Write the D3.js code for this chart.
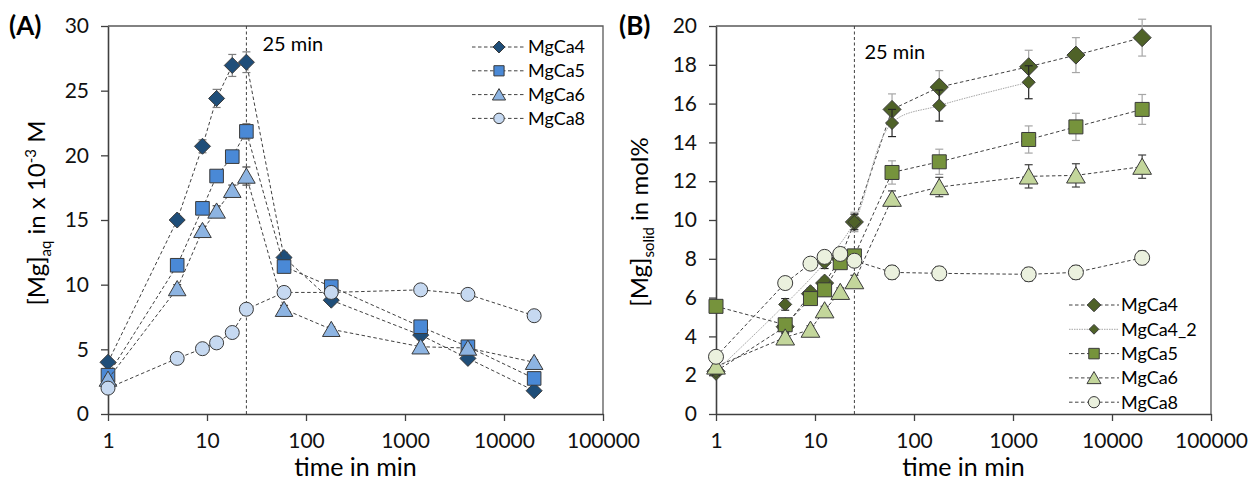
<!DOCTYPE html>
<html>
<head>
<meta charset="utf-8">
<script src="https://cdn.jsdelivr.net/npm/d3@7"></script>
<style>
  body { margin: 0; background: #fff; }
  text { font-family: Lato, "Noto Sans", sans-serif; fill: #000; }
</style>
</head>
<body>
<script>
// time points (min)
const times = [1, 5, 9, 12.5, 18, 25, 60, 180, 1440, 4320, 20160]
const xTicks = [1, 10, 100, 1000, 10000, 100000]

// (A) [Mg]aq in 10^-3 M
const aqMgCa4 = [4.0, 15.0, 20.7, 24.4, 26.95, 27.2, 12.1, 8.8, 6.1, 4.3, 1.8]
const aqMgCa5 = [3.0, 11.5, 15.9, 18.4, 19.9, 21.85, 11.4, 9.85, 6.75, 5.2, 2.75]
const aqMgCa6 = [2.7, 9.7, 14.2, 15.7, 17.3, 18.4, 8.1, 6.55, 5.2, 5.1, 4.0]
const aqMgCa8 = [2.0, 4.3, 5.05, 5.5, 6.3, 8.1, 9.4, 9.4, 9.6, 9.25, 7.6]
const aqErr4 = [0.2, 0.3, 0.5, 0.7, 0.85, 0.8, 0.4, 0.3, 0.3, 0.2, 0.2]
const aqErr5 = [0.2, 0.3, 0.3, 0.3, 0.4, 0.6, 0.3, 0.3, 0.3, 0.2, 0.2]
const aqErr6 = [0.2, 0.3, 0.3, 0.4, 0.4, 0.7, 0.3, 0.2, 0.2, 0.2, 0.2]
const aqErr8 = [0.1, 0.1, 0.1, 0.1, 0.1, 0.2, 0.2, 0.2, 0.2, 0.2, 0.2]

// (B) [Mg]solid in mol%
const solMgCa4 = [2.2, 4.5, 6.2, 6.75, 8.0, 9.9, 15.7, 16.85, 17.9, 18.5, 19.4]
const solMgCa4_2 = [2.2, 5.65, null, 7.8, null, 9.9, 15.0, 15.9, 17.1, null, null]
const solMgCa5 = [5.55, 4.6, 5.95, 6.4, 7.8, 8.15, 12.45, 13.0, 14.15, 14.8, 15.7]
const solMgCa6 = [2.45, 3.95, 4.35, 5.35, 6.3, 6.85, 11.1, 11.7, 12.25, 12.3, 12.75]
const solMgCa8 = [2.95, 6.75, 7.75, 8.1, 8.25, 7.9, 7.3, 7.25, 7.2, 7.3, 8.05]
const solErr4 = [0.2, 0.3, 0.3, 0.3, 0.3, 0.5, 0.8, 0.85, 0.85, 0.9, 0.95]
const solErr4_2 = [0.2, 0.3, null, 0.3, null, 0.4, 0.7, 0.8, 0.85, null, null]
const solErr5 = [0.3, 0.3, 0.3, 0.3, 0.3, 0.3, 0.6, 0.65, 0.7, 0.7, 0.77]
const solErr6 = [0.2, 0.2, 0.2, 0.2, 0.2, 0.3, 0.4, 0.5, 0.6, 0.6, 0.6]
const solErr8 = [0.3, 0.3, 0.3, 0.3, 0.3, 0.3, 0.35, 0.35, 0.35, 0.35, 0.35]

const svg = d3.select('body').append('svg')
    .attr('width', 1251)
    .attr('height', 487)

// marker shapes
function shape(type, s) {
    if (type === 'diamond') return `M0,${-s}L${s},0L0,${s}L${-s},0Z`
    if (type === 'square') return `M${-s},${-s}H${s}V${s}H${-s}Z`
    if (type === 'triangle') return `M0,${-s}L${s * 1.1},${s * 0.9}L${-s * 1.1},${s * 0.9}Z`
    return `M${-s},0A${s},${s} 0 1,1 ${s},0A${s},${s} 0 1,1 ${-s},0Z`
}

function drawPanel(opt) {
    const x = d3.scaleLog().domain([1, 100000]).range(opt.xRange)
    const y = d3.scaleLinear().domain([0, opt.yMax]).range([414, 26])
    const g = svg.append('g')

    // box top/right
    g.append('path')
        .attr('d', `M${opt.xRange[0]},26H${opt.xRange[1]}V414`)
        .style('fill', 'none').style('stroke', '#595959').style('stroke-width', 1.3)

    // 25 min line
    g.append('line')
        .attr('x1', x(25)).attr('x2', x(25)).attr('y1', 26).attr('y2', 414)
        .style('stroke', '#404040').style('stroke-dasharray', '3,2.5').style('stroke-width', 1)
    g.append('text')
        .attr('x', x(25) + opt.minDx).attr('y', opt.minY)
        .style('font-size', '20px')
        .text('25 min')

    // axes
    const xAxis = g.append('g')
        .attr('transform', 'translate(0,414)')
        .call(d3.axisBottom(x).tickValues(xTicks).tickFormat(d3.format('d')).tickSize(7).tickSizeOuter(0).tickPadding(12))
    const yAxis = g.append('g')
        .attr('transform', `translate(${opt.xRange[0]},0)`)
        .call(d3.axisLeft(y).tickValues(opt.yTicks).tickSize(7).tickSizeOuter(0).tickPadding(12))
    ;[xAxis, yAxis].forEach(a => {
        a.select('.domain').style('stroke', '#404040').style('stroke-width', 1.6)
        a.selectAll('.tick line').style('stroke', '#404040').style('stroke-width', 1.3)
        a.selectAll('.tick text').style('font-size', '21px').style('font-family', 'Lato').style('fill', '#111')
    })

    // series
    opt.series.forEach(s => {
        const pts = times.map((t, i) => ({ t, v: s.values[i], e: s.err[i] })).filter(d => d.v != null)
        const line = d3.line().x(d => x(d.t)).y(d => y(d.v))
        if (s.smooth) line.curve(d3.curveCatmullRom.alpha(0.5))
        g.append('path')
            .datum(pts)
            .attr('d', line)
            .style('fill', 'none')
            .style('stroke', s.lineColor || '#404040')
            .style('stroke-width', s.lineWidth || 1)
            .style('stroke-dasharray', s.dash || '3.5,2.5')
        // error bars
        const eb = g.append('g').selectAll('g').data(pts).enter().append('g')
            .style('stroke', s.errColor || '#7f7f7f').style('stroke-width', 1.2)
        eb.append('line')
            .attr('x1', d => x(d.t)).attr('x2', d => x(d.t))
            .attr('y1', d => y(d.v - d.e)).attr('y2', d => y(d.v + d.e))
        eb.append('line')
            .attr('x1', d => x(d.t) - 4).attr('x2', d => x(d.t) + 4)
            .attr('y1', d => y(d.v + d.e)).attr('y2', d => y(d.v + d.e))
        eb.append('line')
            .attr('x1', d => x(d.t) - 4).attr('x2', d => x(d.t) + 4)
            .attr('y1', d => y(d.v - d.e)).attr('y2', d => y(d.v - d.e))
        // markers
        g.append('g').selectAll('path').data(pts).enter().append('path')
            .attr('transform', d => `translate(${x(d.t)},${y(d.v)})`)
            .attr('d', shape(s.shape, s.size))
            .style('fill', s.color)
            .style('stroke', '#3a3a3a')
            .style('stroke-width', 1)
    })

    // legend
    const lg = g.append('g')
    opt.series.forEach((s, i) => {
        const ly = opt.legend.y + i * opt.legend.dy
        lg.append('line')
            .attr('x1', opt.legend.x0).attr('x2', opt.legend.x1)
            .attr('y1', ly).attr('y2', ly)
            .style('stroke', s.lineColor || '#404040')
            .style('stroke-width', s.lineWidth || 1)
            .style('stroke-dasharray', s.dash || '3.5,2.5')
        lg.append('path')
            .attr('transform', `translate(${(opt.legend.x0 + opt.legend.x1) / 2},${ly})`)
            .attr('d', shape(s.shape, s.size * 0.75))
            .style('fill', s.color).style('stroke', '#3a3a3a').style('stroke-width', 1)
        lg.append('text')
            .attr('x', opt.legend.x1 + 2).attr('y', ly)
            .attr('dy', '0.35em')
            .style('font-size', '18px')
            .text(s.name)
    })

    // x title
    g.append('text')
        .attr('x', (opt.xRange[0] + opt.xRange[1]) / 2).attr('y', 476)
        .attr('text-anchor', 'middle')
        .style('font-size', '25px')
        .text('time in min')

    // panel label
    g.append('text')
        .attr('x', opt.labelX).attr('y', 35)
        .style('font-size', '26px').style('font-weight', 'bold')
        .text(opt.label)
}

drawPanel({
    label: '(A)', labelX: 9,
    xRange: [108, 603], yMax: 30, yTicks: d3.range(0, 31, 5),
    minDx: 16, minY: 51,
    legend: { x0: 472, x1: 526, y: 47, dy: 23.8 },
    series: [
        { name: 'MgCa4', values: aqMgCa4, err: aqErr4, shape: 'diamond', size: 8, color: '#1f4e79', errColor: '#7f7f7f' },
        { name: 'MgCa5', values: aqMgCa5, err: aqErr5, shape: 'square', size: 6.8, color: '#4a89d6', errColor: '#7f7f7f' },
        { name: 'MgCa6', values: aqMgCa6, err: aqErr6, shape: 'triangle', size: 8, color: '#8db4e2', errColor: '#404040' },
        { name: 'MgCa8', values: aqMgCa8, err: aqErr8, shape: 'circle', size: 7, color: '#c6d9f1', errColor: '#404040' }
    ]
})

drawPanel({
    label: '(B)', labelX: 619,
    xRange: [716, 1211], yMax: 20, yTicks: d3.range(0, 21, 2),
    minDx: 10, minY: 59,
    legend: { x0: 1069, x1: 1119, y: 305, dy: 24.3 },
    series: [
        { name: 'MgCa4', values: solMgCa4, err: solErr4, shape: 'diamond', size: 9, color: '#4f6228', errColor: '#a6a6a6' },
        { name: 'MgCa4_2', values: solMgCa4_2, err: solErr4_2, shape: 'diamond', size: 6.5, color: '#4f6228', errColor: '#262626',
          lineColor: '#a6a6a6', dash: '1.5,1', smooth: true },
        { name: 'MgCa5', values: solMgCa5, err: solErr5, shape: 'square', size: 7, color: '#76933c', errColor: '#a6a6a6' },
        { name: 'MgCa6', values: solMgCa6, err: solErr6, shape: 'triangle', size: 8.5, color: '#c3d69b', errColor: '#404040' },
        { name: 'MgCa8', values: solMgCa8, err: solErr8, shape: 'circle', size: 7.5, color: '#ebf1de', errColor: '#404040' }
    ]
})

// y axis titles
const yTitleA = svg.append('text')
    .attr('transform', 'translate(45,213) rotate(-90)')
    .attr('text-anchor', 'middle')
    .style('font-size', '24px')
yTitleA.append('tspan').text('[Mg]')
yTitleA.append('tspan').attr('dy', 6).style('font-size', '15px').text('aq')
yTitleA.append('tspan').attr('dy', -6).text(' in x 10')
yTitleA.append('tspan').attr('dy', -9).style('font-size', '15px').text('-3')
yTitleA.append('tspan').attr('dy', 9).text(' M')

const yTitleB = svg.append('text')
    .attr('transform', 'translate(648,222) rotate(-90)')
    .attr('text-anchor', 'middle')
    .style('font-size', '24px')
yTitleB.append('tspan').text('[Mg]')
yTitleB.append('tspan').attr('dy', 6).style('font-size', '15px').text('solid')
yTitleB.append('tspan').attr('dy', -6).text('  in mol%')
</script>
</body>
</html>
